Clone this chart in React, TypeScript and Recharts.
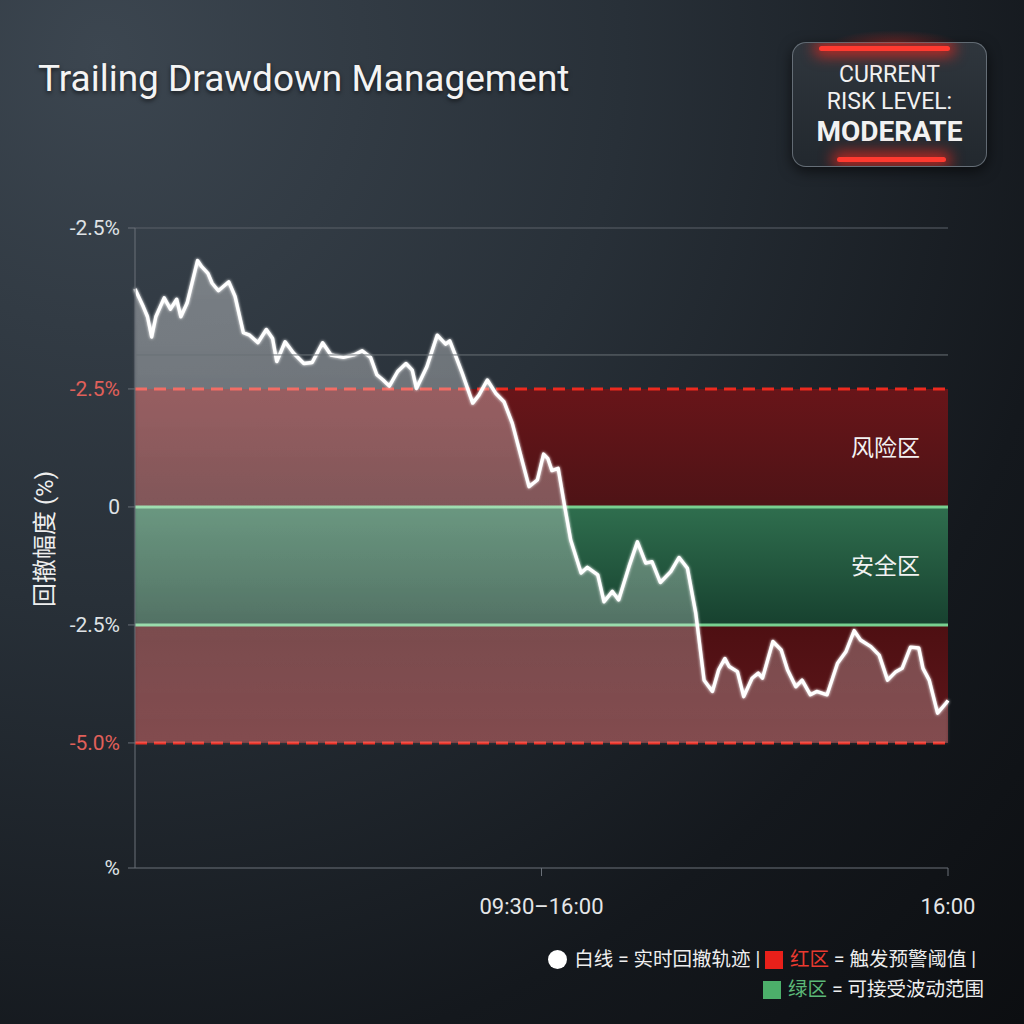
import {
  ComposedChart,
  Area,
  XAxis,
  YAxis,
  ReferenceArea,
  ReferenceLine,
} from 'recharts';

// minutes since the 09:30 open
const minutes = [
  0, 4, 6, 8, 10, 14, 17, 20, 22, 25, 30, 32, 35, 37, 40, 45, 48, 52, 55, 59,
  63, 66, 68, 72, 76, 81, 85, 90, 94, 100, 105, 109, 113, 116, 119, 122, 126,
  130, 133, 135, 140, 145, 149, 151, 154, 157, 162, 165, 169, 173, 177, 181,
  186, 189, 193, 196, 198, 200, 203, 206, 209, 214, 217, 222, 225, 229, 232,
  237, 241, 245, 248, 252, 257, 261, 265, 269, 273, 277, 280, 283, 285, 289,
  292, 296, 299, 301, 306, 310, 313, 317, 320, 324, 327, 332, 337, 341, 345,
  348, 353, 357, 361, 365, 368, 372, 376, 378, 381, 385, 389, 390,
];

const drawdown = [
  4.62, 4.24, 4.03, 3.6, 4.03, 4.43, 4.19, 4.4, 4.03, 4.32, 5.22, 5.09, 4.95,
  4.74, 4.58, 4.77, 4.46, 3.69, 3.64, 3.48, 3.76, 3.57, 3.08, 3.5, 3.26, 3.04,
  3.06, 3.48, 3.22, 3.17, 3.22, 3.31, 3.17, 2.8, 2.69, 2.56, 2.87, 3.04, 2.9,
  2.51, 2.97, 3.64, 3.45, 3.52, 3.18, 2.83, 2.2, 2.37, 2.69, 2.41, 2.23, 1.77,
  0.93, 0.43, 0.57, 1.12, 1.03, 0.77, 0.82, 0.04, -0.7, -1.4, -1.28, -1.44,
  -2.01, -1.79, -1.97, -1.26, -0.74, -1.19, -1.16, -1.6, -1.37, -1.07, -1.3,
  -2.25, -3.67, -3.91, -3.45, -3.21, -3.38, -3.49, -4.02, -3.63, -3.52, -3.63,
  -2.85, -3.03, -3.45, -3.81, -3.67, -3.98, -3.91, -3.98, -3.31, -3.07, -2.62,
  -2.82, -2.96, -3.14, -3.67, -3.49, -3.42, -2.97, -2.99, -3.42, -3.67, -4.37,
  -4.16, -4.1,
];

const yTicks = [5.91, 2.5, 0, -2.5, -5, -7.65];
const yTickLabels = ['-2.5%', '-2.5%', '0', '-2.5%', '-5.0%', '%'];
const yRedTicks = [2.5, -5];

const xTicks = [195, 390];
const xTickLabels = ['09:30–16:00', '16:00'];

const riskUpper = 2.5;
const safeUpper = 0;
const safeLower = -2.5;
const riskLower = -5;
const gridLevel = 3.22;

const data = minutes.map((m, i) => ({ m, dd: drawdown[i] }));

const FONT = "Roboto, 'Noto Sans CJK SC', sans-serif";

const YTick = (props: any) => {
  const { x, y, payload } = props;
  const i = yTicks.indexOf(payload.value);
  const red = yRedTicks.includes(payload.value);
  return (
    <text
      x={x - 6}
      y={y}
      dy={7}
      textAnchor="end"
      fontSize={21}
      fontFamily={FONT}
      fill={red ? '#e0605a' : '#dfe2e5'}
    >
      {yTickLabels[i]}
    </text>
  );
};

const XTick = (props: any) => {
  const { x, y, payload } = props;
  const i = xTicks.indexOf(payload.value);
  return (
    <text
      x={x}
      y={y}
      dy={36}
      textAnchor="middle"
      fontSize={22}
      fontFamily={FONT}
      fill="#e4e6e8"
    >
      {xTickLabels[i]}
    </text>
  );
};

const glowBar = {
  position: 'absolute' as const,
  height: 5,
  background: '#ff3a30',
  boxShadow: '0 0 14px 5px rgba(240,40,30,0.75)',
  borderRadius: 3,
};

const RiskBadge = () => (
  <div
    style={{
      position: 'absolute',
      left: 792,
      top: 42,
      width: 193,
      height: 123,
      borderRadius: 14,
      border: '1.5px solid rgba(140,150,160,0.6)',
      background: 'linear-gradient(180deg, #2f363d 0%, #22282e 100%)',
      boxShadow: '0 4px 14px rgba(0,0,0,0.6)',
      overflow: 'hidden',
      textAlign: 'center',
      color: '#f2f2f2',
      fontFamily: FONT,
    }}
  >
    <div style={{ ...glowBar, left: 26, right: 36, top: 3 }} />
    <div style={{ ...glowBar, left: 44, right: 40, bottom: 4 }} />
    <div style={{ marginTop: 18, fontSize: 23, lineHeight: '27px' }}>CURRENT</div>
    <div style={{ fontSize: 23, lineHeight: '27px' }}>RISK LEVEL:</div>
    <div style={{ fontSize: 28, fontWeight: 700, lineHeight: '34px' }}>MODERATE</div>
  </div>
);

const Legend = () => (
  <div
    style={{
      position: 'absolute',
      right: 48,
      top: 945,
      textAlign: 'right',
      fontFamily: FONT,
      fontSize: 19.5,
      color: '#eeeeee',
      lineHeight: '30px',
    }}
  >
    <div>
      <span
        style={{
          display: 'inline-block',
          width: 19,
          height: 19,
          borderRadius: '50%',
          background: '#ffffff',
          verticalAlign: -3,
          marginRight: 7,
        }}
      />
      白线 = 实时回撤轨迹 |{' '}
      <span
        style={{
          display: 'inline-block',
          width: 18,
          height: 18,
          background: '#e8201a',
          verticalAlign: -3,
          marginRight: 7,
        }}
      />
      <span style={{ color: '#ea3a30' }}>红区</span> = 触发预警阈值 |
    </div>
    <div style={{ marginRight: -8 }}>
      <span
        style={{
          display: 'inline-block',
          width: 18,
          height: 18,
          background: '#4caf6a',
          verticalAlign: -3,
          marginRight: 7,
        }}
      />
      <span style={{ color: '#5cb878' }}>绿区</span> = 可接受波动范围
    </div>
  </div>
);

export default function App() {
  return (
    <div
      style={{
        position: 'absolute',
        left: 0,
        top: 0,
        width: 1024,
        height: 1024,
        overflow: 'hidden',
        background:
          'radial-gradient(ellipse at 10% 5%, #3c4650 0%, #283038 40%, #14181d 75%, #0c0e11 100%)',
      }}
    >
      <div
        style={{
          position: 'absolute',
          left: 38,
          top: 57,
          fontFamily: FONT,
          fontSize: 37,
          color: '#f4f4f4',
          textShadow: '0 2px 4px rgba(0,0,0,0.6)',
        }}
      >
        Trailing Drawdown Management
      </div>
      {/* rotated axis title */}
      <div
        style={{
          position: 'absolute',
          left: 42,
          top: 539,
          transform: 'translate(-50%, -50%) rotate(-90deg)',
          whiteSpace: 'nowrap',
          fontFamily: FONT,
          fontSize: 24,
          color: '#eeeeee',
        }}
      >
        回撤幅度 (%)
      </div>
      <RiskBadge />
      <div
        style={{
          position: 'absolute',
          left: 830,
          top: 30,
          width: 130,
          height: 14,
          background: 'radial-gradient(ellipse at 50% 100%, rgba(230,40,30,0.35), rgba(230,40,30,0) 70%)',
        }}
      />
      <div style={{ position: 'absolute', left: 0, top: 0 }}>
        <ComposedChart
          width={1024}
          height={1024}
          data={data}
          margin={{ top: 228, right: 76, bottom: 116, left: 75 }}
        >
          <defs>
            <linearGradient id="greenBand" x1="0" y1="0" x2="0" y2="1">
              <stop offset="0%" stopColor="#2f6e4e" />
              <stop offset="100%" stopColor="#17412f" />
            </linearGradient>
            <linearGradient id="redTop" x1="0" y1="0" x2="0" y2="1">
              <stop offset="0%" stopColor="#681519" />
              <stop offset="100%" stopColor="#4e1316" />
            </linearGradient>
            <linearGradient id="redBottom" x1="0" y1="0" x2="0" y2="1">
              <stop offset="0%" stopColor="#4e0f12" />
              <stop offset="100%" stopColor="#5e171b" />
            </linearGradient>
            <linearGradient id="ddFill" x1="0" y1="0" x2="0" y2="1">
              <stop offset="0%" stopColor="#ffffff" stopOpacity={0.32} />
              <stop offset="100%" stopColor="#ffffff" stopOpacity={0.2} />
            </linearGradient>
            <filter id="glow" x="-10%" y="-10%" width="120%" height="120%">
              <feGaussianBlur stdDeviation="1.5" result="b" />
              <feMerge>
                <feMergeNode in="b" />
                <feMergeNode in="SourceGraphic" />
              </feMerge>
            </filter>
          </defs>
          <XAxis
            dataKey="m"
            type="number"
            domain={[0, 390]}
            ticks={xTicks}
            tick={<XTick />}
            stroke="#6a7078"
            tickSize={8}
            height={40}
          />
          <YAxis
            type="number"
            domain={[-7.65, 5.91]}
            ticks={yTicks}
            tick={<YTick />}
            stroke="#6a7078"
            tickSize={7}
            width={60}
            allowDataOverflow
          />
          <ReferenceLine y={5.91} stroke="#5a6068" strokeWidth={1.2} />
          <ReferenceLine y={gridLevel} stroke="#6a7076" strokeWidth={1} />
          <ReferenceArea
            y1={safeUpper}
            y2={riskUpper}
            fill="url(#redTop)"
            fillOpacity={1}
            zIndex={50}
            label={{
              value: '风险区',
              position: 'insideRight',
              offset: 28,
              fill: '#f2f2f2',
              fontSize: 23,
              fontFamily: FONT,
            }}
          />
          <ReferenceArea
            y1={safeLower}
            y2={safeUpper}
            fill="url(#greenBand)"
            fillOpacity={1}
            zIndex={50}
            label={{
              value: '安全区',
              position: 'insideRight',
              offset: 28,
              fill: '#f2f2f2',
              fontSize: 23,
              fontFamily: FONT,
            }}
          />
          <ReferenceArea
            y1={riskLower}
            y2={safeLower}
            fill="url(#redBottom)"
            fillOpacity={1}
            zIndex={50}
          />
          <Area
            type="linear"
            dataKey="dd"
            baseValue={riskLower}
            stroke="#ffffff"
            strokeWidth={3.4}
            strokeLinejoin="round"
            fill="url(#ddFill)"
            isAnimationActive={false}
            dot={false}
            activeDot={false}
            zIndex={100}
            filter="url(#glow)"
          />
          <ReferenceLine y={safeUpper} stroke="#78d090" strokeWidth={3} zIndex={90} />
          <ReferenceLine y={safeLower} stroke="#78d090" strokeWidth={3} zIndex={90} />
          <ReferenceLine
            y={riskUpper}
            stroke="#ec2a1f"
            strokeWidth={3}
            strokeDasharray="12 7"
            zIndex={90}
          />
          <ReferenceLine
            y={riskLower}
            stroke="#ec2a1f"
            strokeWidth={3}
            strokeDasharray="12 7"
            zIndex={90}
          />
        </ComposedChart>
      </div>
      <Legend />
    </div>
  );
}
